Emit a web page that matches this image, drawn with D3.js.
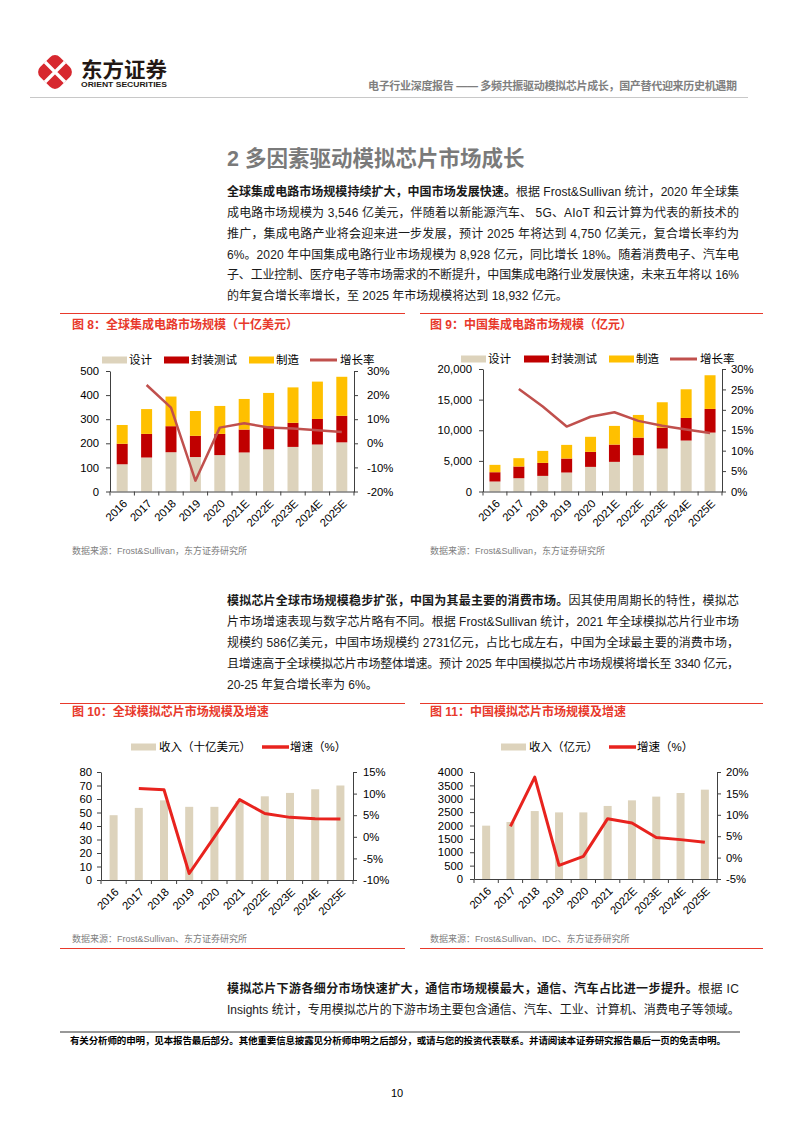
<!DOCTYPE html>
<html>
<head>
<meta charset="utf-8">
<script src="https://cdn.jsdelivr.net/npm/d3@7"></script>
<style>
  body { margin: 0; background: #fff; }
  svg { display: block; }
</style>
</head>
<body>
<div id="page"></div>
<script>
  // ---- chart data ----
  var years = ["2016", "2017", "2018", "2019", "2020", "2021E", "2022E", "2023E", "2024E", "2025E"];
  var yearsAnalog = ["2016", "2017", "2018", "2019", "2020", "2021", "2022E", "2023E", "2024E", "2025E"];

  // 图8 全球集成电路市场规模（十亿美元）
  var icGlobalDesign  = [113, 141, 163, 143, 151, 162, 175, 185, 195, 204];
  var icGlobalPackage = [85, 98, 108, 88, 88, 95, 96, 100, 106, 110];
  var icGlobalFab     = [78, 103, 123, 103, 116, 127, 138, 147, 155, 162];
  var icGlobalGrowth  = [null, 24.2, 14.8, -15.5, 6.5, 8.3, 6.6, 6.1, 5.4, 4.7];

  // 图9 中国集成电路市场规模（亿元）
  var icChinaDesign  = [1630, 2170, 2550, 3100, 4020, 4840, 5920, 7010, 8320, 9620];
  var icChinaPackage = [1520, 1910, 2120, 2280, 2450, 2820, 2880, 3420, 3690, 3860];
  var icChinaFab     = [1200, 1360, 1960, 2230, 2460, 3050, 3700, 4140, 4680, 5500];
  var icChinaGrowth  = [null, 25.1, 20.8, 15.9, 18.3, 19.4, 17.3, 16.1, 15.2, 14.3];

  // 图10 全球模拟芯片市场规模及增速
  var analogGlobal       = [48, 53.4, 59, 54.2, 54.2, 58.6, 62, 64.5, 67.2, 70];
  var analogGlobalGrowth = [null, 11.2, 10.9, -8.5, 0.0, 8.6, 5.4, 4.5, 4.2, 4.1];

  // 图11 中国模拟芯片市场规模及增速
  var analogChina       = [1994, 2130, 2540, 2490, 2490, 2731, 2940, 3080, 3215, 3340];
  var analogChinaGrowth = [null, 7.3, 18.8, -1.8, 0.3, 9.1, 8.1, 4.7, 4.2, 3.6];

  // tick values
  var ticksIcGlobal = [0, 100, 200, 300, 400, 500];
  var ticksIcGlobalPct = [-20, -10, 0, 10, 20, 30];
  var ticksIcChina = [0, 5000, 10000, 15000, 20000];
  var ticksIcChinaPct = [0, 5, 10, 15, 20, 25, 30];
  var ticksAnalogGlobal = [0, 10, 20, 30, 40, 50, 60, 70, 80];
  var ticksAnalogGlobalPct = [-10, -5, 0, 5, 10, 15];
  var ticksAnalogChina = [0, 500, 1000, 1500, 2000, 2500, 3000, 3500, 4000];
  var ticksAnalogChinaPct = [-5, 0, 5, 10, 15, 20];

  var FONT = '"Liberation Sans", "Noto Sans CJK SC", sans-serif';
  var RED = "#E8392B";

  var svg = d3.select("#page").append("svg")
      .attr("width", 794)
      .attr("height", 1123)
      .attr("font-family", FONT);

  svg.append("rect").attr("width", 794).attr("height", 1123).attr("fill", "#fff");

  // ---- header ----
  var logo = svg.append("g").attr("transform", "translate(55,72)");
  logo.append("rect")
      .attr("x", -14).attr("y", -14).attr("width", 28).attr("height", 28).attr("rx", 7)
      .attr("transform", "rotate(45)")
      .attr("fill", "#D7282F");
  logo.append("path")
      .attr("d", "M-10,-10L10,10M-10,10L10,-10")
      .attr("stroke", "#fff").attr("stroke-width", 3.2);

  svg.append("text").attr("x", 81).attr("y", 77)
      .attr("font-size", 21).attr("font-weight", "bold").attr("fill", "#231815")
      .attr("textLength", 86).attr("lengthAdjust", "spacingAndGlyphs")
      .text("东方证券");
  svg.append("text").attr("x", 81).attr("y", 87)
      .attr("font-size", 7.5).attr("font-weight", "bold").attr("fill", "#231815")
      .attr("textLength", 86).attr("lengthAdjust", "spacingAndGlyphs")
      .text("ORIENT SECURITIES");

  svg.append("text").attr("x", 368).attr("y", 86).attr("dy", "0.35em")
      .attr("font-size", 11).attr("font-weight", "bold").attr("fill", "#7f7f7f")
      .attr("textLength", 369).attr("lengthAdjust", "spacing")
      .text("电子行业深度报告 —— 多频共振驱动模拟芯片成长，国产替代迎来历史机遇期");

  svg.append("line").attr("x1", 30).attr("x2", 748).attr("y1", 97.5).attr("y2", 97.5)
      .attr("stroke", "#c8c8c8").attr("stroke-width", 1);

  // ---- body text ----
  svg.append("text").attr("x", 227).attr("y", 158).attr("dy", "0.35em")
      .attr("font-size", 21.5).attr("font-weight", "bold").attr("fill", "#7a7a7a")
      .text("2 多因素驱动模拟芯片市场成长");

  function paragraph(lines, y0, lh) {
    lines.forEach(function(ln, i) {
      var t = svg.append("text")
          .attr("x", 227)
          .attr("y", y0 + i * lh)
          .attr("dy", "0.35em")
          .attr("font-size", 12)
          .attr("fill", "#1a1a1a");
      if (ln.j) t.attr("textLength", 512).attr("lengthAdjust", "spacing");
      ln.s.forEach(function(seg) {
        t.append("tspan").attr("font-weight", seg[1] ? "bold" : "normal").text(seg[0]);
      });
    });
  }

  paragraph([
    {j: true, s: [["全球集成电路市场规模持续扩大，中国市场发展快速。", true], ["根据 Frost&Sullivan 统计，2020 年全球集", false]]},
    {j: true, s: [["成电路市场规模为 3,546 亿美元，伴随着以新能源汽车、 5G、AIoT 和云计算为代表的新技术的", false]]},
    {j: true, s: [["推广，集成电路产业将会迎来进一步发展，预计 2025 年将达到 4,750 亿美元，复合增长率约为", false]]},
    {j: true, s: [["6%。2020 年中国集成电路行业市场规模为 8,928 亿元，同比增长 18%。随着消费电子、汽车电", false]]},
    {j: true, s: [["子、工业控制、医疗电子等市场需求的不断提升，中国集成电路行业发展快速，未来五年将以 16%", false]]},
    {j: false, s: [["的年复合增长率增长，至 2025 年市场规模将达到 18,932 亿元。", false]]}
  ], 192, 20.8);

  paragraph([
    {j: true, s: [["模拟芯片全球市场规模稳步扩张，中国为其最主要的消费市场。", true], ["因其使用周期长的特性，模拟芯", false]]},
    {j: true, s: [["片市场增速表现与数字芯片略有不同。根据 Frost&Sullivan 统计，2021 年全球模拟芯片行业市场", false]]},
    {j: true, s: [["规模约 586亿美元，中国市场规模约 2731亿元，占比七成左右，中国为全球最主要的消费市场，", false]]},
    {j: true, s: [["且增速高于全球模拟芯片市场整体增速。预计 2025 年中国模拟芯片市场规模将增长至 3340 亿元，", false]]},
    {j: false, s: [["20-25 年复合增长率为 6%。", false]]}
  ], 601, 21);

  paragraph([
    {j: true, s: [["模拟芯片下游各细分市场快速扩大，通信市场规模最大，通信、汽车占比进一步提升。", true], ["根据 IC", false]]},
    {j: false, s: [["Insights 统计，专用模拟芯片的下游市场主要包含通信、汽车、工业、计算机、消费电子等领域。", false]]}
  ], 989, 21);

  // ---- chart frames ----
  function frame(x1, x2, tx, yTop, title, source, yTitle, ySource, yBottom) {
    svg.append("line").attr("x1", x1).attr("x2", x2).attr("y1", yTop).attr("y2", yTop)
        .attr("stroke", RED).attr("stroke-width", 1);
    svg.append("text").attr("x", tx).attr("y", yTitle).attr("dy", "0.35em")
        .attr("font-size", 12).attr("font-weight", "bold").attr("fill", RED)
        .text(title);
    svg.append("text").attr("x", tx).attr("y", ySource).attr("dy", "0.35em")
        .attr("font-size", 9).attr("fill", "#808080")
        .text(source);
    if (yBottom) {
      svg.append("line").attr("x1", x1).attr("x2", x2).attr("y1", yBottom).attr("y2", yBottom)
          .attr("stroke", RED).attr("stroke-width", 1);
    }
  }

  frame(60, 405, 72, 313.5, "图 8：全球集成电路市场规模（十亿美元）", "数据来源：Frost&Sullivan，东方证券研究所", 325, 551);
  frame(420, 763, 430, 313.5, "图 9：中国集成电路市场规模（亿元）", "数据来源：Frost&Sullivan，东方证券研究所", 325, 551);
  frame(60, 405, 72, 703.5, "图 10：全球模拟芯片市场规模及增速", "数据来源：Frost&Sullivan、东方证券研究所", 712, 939, 948.5);
  frame(420, 763, 430, 703.5, "图 11：中国模拟芯片市场规模及增速", "数据来源：Frost&Sullivan、IDC、东方证券研究所", 712, 939, 948.5);

  // ---- combo chart: stacked bars (left axis) + growth line (right axis) ----
  function drawCombo(cfg) {
    var g = svg.append("g");
    var x = d3.scaleBand().domain(cfg.cats).range([cfg.x0, cfg.x1]);
    var yL = d3.scaleLinear().domain(cfg.leftDomain).range([cfg.yBot, cfg.yTop]);
    var yR = d3.scaleLinear().domain(cfg.rightDomain).range([cfg.yBot, cfg.yTop]);

    var table = cfg.cats.map(function(c, i) {
      var row = {cat: c};
      cfg.keys.forEach(function(k, j) { row[k] = cfg.values[j][i]; });
      return row;
    });
    var series = d3.stack().keys(cfg.keys)(table);

    g.selectAll(".layer")
        .data(series)
      .enter().append("g")
        .attr("class", "layer")
        .attr("fill", function(d, i) { return cfg.colors[i]; })
      .selectAll("rect")
        .data(function(d) { return d; })
      .enter().append("rect")
        .attr("x", function(d) { return x(d.data.cat) + x.bandwidth() / 2 - cfg.barW / 2; })
        .attr("y", function(d) { return yL(d[1]); })
        .attr("width", cfg.barW)
        .attr("height", function(d) { return yL(d[0]) - yL(d[1]); });

    // axes
    var axL = g.append("g")
        .attr("transform", "translate(" + cfg.x0 + ",0)")
        .call(d3.axisLeft(yL).tickValues(cfg.leftTicks).tickSize(4).tickSizeOuter(0)
              .tickPadding(cfg.padL).tickFormat(cfg.leftFmt));
    var axR = g.append("g")
        .attr("transform", "translate(" + cfg.x1 + ",0)")
        .call(d3.axisRight(yR).tickValues(cfg.rightTicks).tickSize(4).tickSizeOuter(0)
              .tickPadding(cfg.padR).tickFormat(function(d) { return d + "%"; }));
    var axB = g.append("g")
        .attr("transform", "translate(0," + cfg.yBot + ")")
        .call(d3.axisBottom(x).tickSize(0).tickSizeOuter(0));

    axB.selectAll(".tick text")
        .attr("x", 0).attr("y", 0).attr("dy", "0.35em")
        .attr("text-anchor", "end")
        .attr("transform", "translate(3,10) rotate(-45)");

    axB.selectAll(".bt")
        .data(d3.range(cfg.cats.length + 1))
      .enter().append("line")
        .attr("class", "bt")
        .attr("x1", function(i) { return cfg.x0 + i * x.step(); })
        .attr("x2", function(i) { return cfg.x0 + i * x.step(); })
        .attr("y1", 0).attr("y2", 4)
        .attr("stroke", "#404040");

    [axL, axR, axB].forEach(function(ax) {
      ax.attr("font-family", FONT).attr("font-size", 11.3);
      ax.selectAll("path, line").attr("stroke", "#404040");
      ax.selectAll("text").attr("fill", "#000");
    });

    // growth line
    var line = d3.line()
        .defined(function(d) { return d != null; })
        .x(function(d, i) { return x(cfg.cats[i]) + x.bandwidth() / 2; })
        .y(function(d) { return yR(d); });

    g.append("path")
        .datum(cfg.growth)
        .attr("d", line)
        .attr("fill", "none")
        .attr("stroke", cfg.lineColor)
        .attr("stroke-width", cfg.lineW)
        .attr("stroke-linejoin", "round");

    // legend
    var lg = g.append("g").attr("transform", "translate(0," + cfg.legendY + ")");
    cfg.legend.forEach(function(item) {
      if (item.type === "rect") {
        lg.append("rect").attr("x", item.x).attr("y", -3.5).attr("width", 25).attr("height", 7)
            .attr("fill", item.color);
      } else {
        lg.append("line").attr("x1", item.x).attr("x2", item.x + 27).attr("y1", 0).attr("y2", 0)
            .attr("stroke", item.color).attr("stroke-width", cfg.lineW + 0.5);
      }
      lg.append("text").attr("x", item.tx).attr("y", 0).attr("dy", "0.35em")
          .attr("font-size", 11.5).attr("fill", "#000")
          .text(item.label);
    });
  }

  var cDesign = "#DDD3BC", cPackage = "#C00000", cFab = "#FFC000";

  drawCombo({
    cats: years, keys: ["设计", "封装测试", "制造"],
    values: [icGlobalDesign, icGlobalPackage, icGlobalFab],
    colors: [cDesign, cPackage, cFab],
    growth: icGlobalGrowth,
    x0: 110, x1: 354, yTop: 371, yBot: 491.5, barW: 11,
    leftDomain: [0, 500], rightDomain: [-20, 30],
    leftTicks: ticksIcGlobal, rightTicks: ticksIcGlobalPct,
    leftFmt: d3.format("d"), padL: 7, padR: 9,
    lineColor: "#C0504D", lineW: 2.5,
    legendY: 360,
    legend: [
      {type: "rect", x: 102, tx: 129, label: "设计", color: cDesign},
      {type: "rect", x: 164, tx: 191, label: "封装测试", color: cPackage},
      {type: "rect", x: 249, tx: 276, label: "制造", color: cFab},
      {type: "line", x: 310, tx: 340, label: "增长率", color: "#C0504D"}
    ]
  });

  drawCombo({
    cats: years, keys: ["设计", "封装测试", "制造"],
    values: [icChinaDesign, icChinaPackage, icChinaFab],
    colors: [cDesign, cPackage, cFab],
    growth: icChinaGrowth,
    x0: 483, x1: 722, yTop: 369, yBot: 491.5, barW: 11,
    leftDomain: [0, 20000], rightDomain: [0, 30],
    leftTicks: ticksIcChina, rightTicks: ticksIcChinaPct,
    leftFmt: d3.format(","), padL: 7, padR: 5,
    lineColor: "#C0504D", lineW: 2.5,
    legendY: 359,
    legend: [
      {type: "rect", x: 461, tx: 488, label: "设计", color: cDesign},
      {type: "rect", x: 524, tx: 551, label: "封装测试", color: cPackage},
      {type: "rect", x: 609, tx: 636, label: "制造", color: cFab},
      {type: "line", x: 670, tx: 700, label: "增长率", color: "#C0504D"}
    ]
  });

  drawCombo({
    cats: yearsAnalog, keys: ["收入"],
    values: [analogGlobal],
    colors: [cDesign],
    growth: analogGlobalGrowth,
    x0: 101, x1: 353, yTop: 772, yBot: 880, barW: 8,
    leftDomain: [0, 80], rightDomain: [-10, 15],
    leftTicks: ticksAnalogGlobal, rightTicks: ticksAnalogGlobalPct,
    leftFmt: d3.format("d"), padL: 5, padR: 6,
    lineColor: "#E8231E", lineW: 3,
    legendY: 747,
    legend: [
      {type: "rect", x: 131, tx: 159, label: "收入（十亿美元）", color: cDesign},
      {type: "line", x: 262, tx: 290, label: "增速（%）", color: "#E8231E"}
    ]
  });

  drawCombo({
    cats: yearsAnalog, keys: ["收入"],
    values: [analogChina],
    colors: [cDesign],
    growth: analogChinaGrowth,
    x0: 474, x1: 717, yTop: 772, yBot: 879, barW: 8,
    leftDomain: [0, 4000], rightDomain: [-5, 20],
    leftTicks: ticksAnalogChina, rightTicks: ticksAnalogChinaPct,
    leftFmt: d3.format("d"), padL: 7, padR: 5,
    lineColor: "#E8231E", lineW: 3,
    legendY: 747,
    legend: [
      {type: "rect", x: 501, tx: 529, label: "收入（亿元）", color: cDesign},
      {type: "line", x: 609, tx: 637, label: "增速（%）", color: "#E8231E"}
    ]
  });

  // ---- footer ----
  svg.append("line").attr("x1", 60).attr("x2", 740).attr("y1", 1032).attr("y2", 1032)
      .attr("stroke", "#333").attr("stroke-width", 1.2);
  svg.append("text").attr("x", 70).attr("y", 1041).attr("dy", "0.35em")
      .attr("font-size", 9.5).attr("font-weight", "bold").attr("fill", "#000")
      .attr("textLength", 656).attr("lengthAdjust", "spacing")
      .text("有关分析师的申明，见本报告最后部分。其他重要信息披露见分析师申明之后部分，或请与您的投资代表联系。并请阅读本证券研究报告最后一页的免责申明。");
  svg.append("text").attr("x", 397).attr("y", 1093).attr("dy", "0.35em")
      .attr("text-anchor", "middle").attr("font-size", 11).attr("fill", "#000")
      .text("10");
</script>
</body>
</html>
